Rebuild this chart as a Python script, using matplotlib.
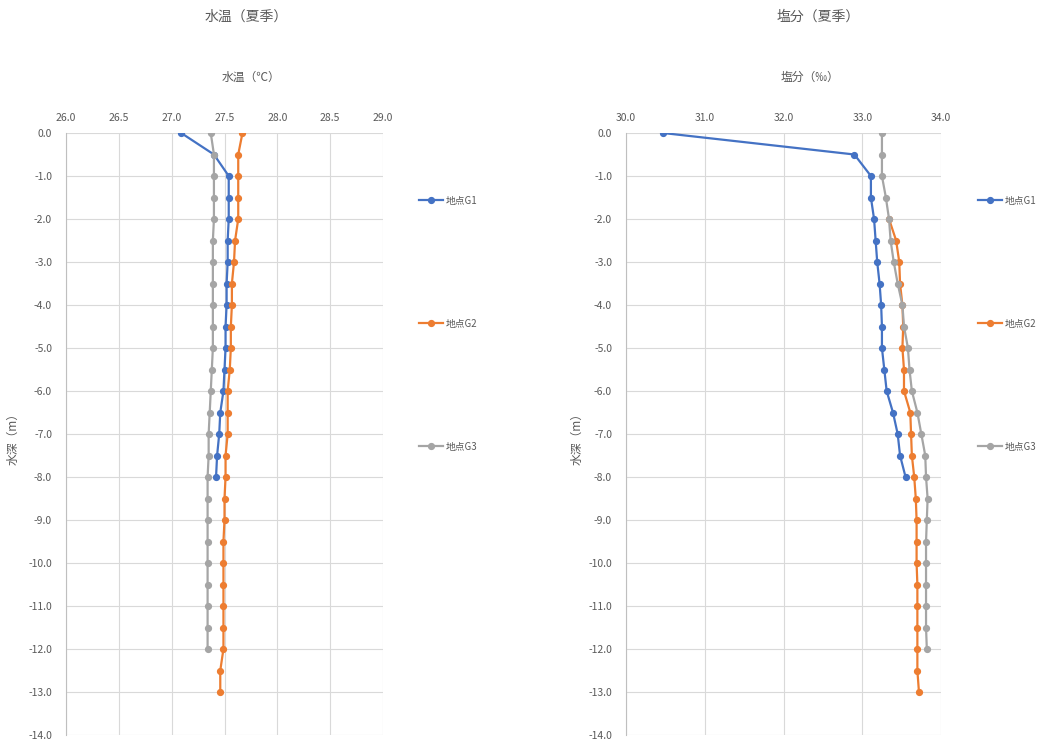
import matplotlib
matplotlib.use("Agg")
import matplotlib.pyplot as plt
from matplotlib.ticker import FormatStrFormatter

plt.rcParams['font.family'] = ['Noto Sans CJK JP', 'DejaVu Sans']

# ---- data ----
labels = ["地点G1", "地点G2", "地点G3"]
colors = ["#4472C4", "#ED7D31", "#A5A5A5"]

depth_to_8 = [0.0, -0.5, -1.0, -1.5, -2.0, -2.5, -3.0, -3.5, -4.0, -4.5,
              -5.0, -5.5, -6.0, -6.5, -7.0, -7.5, -8.0]
depth_to_12 = depth_to_8 + [-8.5, -9.0, -9.5, -10.0, -10.5, -11.0, -11.5, -12.0]
depth_to_13 = depth_to_12 + [-12.5, -13.0]
depth_sal_g2 = [-2.0, -2.5, -3.0, -3.5, -4.0, -4.5, -5.0, -5.5, -6.0, -6.5,
                -7.0, -7.5, -8.0, -8.5, -9.0, -9.5, -10.0, -10.5, -11.0,
                -11.5, -12.0, -12.5, -13.0]

temp_g1 = [27.09, 27.40, 27.54, 27.54, 27.54, 27.53, 27.53, 27.52, 27.52,
           27.51, 27.51, 27.50, 27.49, 27.46, 27.45, 27.43, 27.42]
temp_g2 = [27.67, 27.63, 27.63, 27.63, 27.63, 27.60, 27.59, 27.57, 27.57,
           27.56, 27.56, 27.55, 27.53, 27.53, 27.53, 27.51, 27.51, 27.50,
           27.50, 27.49, 27.49, 27.49, 27.49, 27.49, 27.49, 27.46, 27.46]
temp_g3 = [27.37, 27.40, 27.40, 27.40, 27.40, 27.39, 27.39, 27.39, 27.39,
           27.39, 27.39, 27.38, 27.37, 27.36, 27.35, 27.35, 27.34, 27.34,
           27.34, 27.34, 27.34, 27.34, 27.34, 27.34, 27.34]

sal_g1 = [30.47, 32.90, 33.11, 33.11, 33.15, 33.17, 33.19, 33.22, 33.24,
          33.25, 33.25, 33.28, 33.31, 33.39, 33.45, 33.48, 33.55]
sal_g2 = [33.34, 33.43, 33.47, 33.48, 33.51, 33.52, 33.51, 33.53, 33.53,
          33.61, 33.62, 33.63, 33.66, 33.68, 33.69, 33.69, 33.69, 33.70,
          33.70, 33.70, 33.70, 33.70, 33.72]
sal_g3 = [33.25, 33.25, 33.25, 33.30, 33.34, 33.36, 33.40, 33.45, 33.51,
          33.53, 33.58, 33.60, 33.63, 33.70, 33.75, 33.80, 33.81, 33.83,
          33.82, 33.81, 33.81, 33.81, 33.81, 33.81, 33.82]

temp_ticks = [26.0, 26.5, 27.0, 27.5, 28.0, 28.5, 29.0]
sal_ticks = [30.0, 31.0, 32.0, 33.0, 34.0]
depth_ticks = [0, -1, -2, -3, -4, -5, -6, -7, -8, -9, -10, -11, -12, -13, -14]

TXT = "#595959"
W, H = 1044, 746

fig = plt.figure(figsize=(W / 100, H / 100), dpi=100)


def fx(px):
    return px / W


def fy(py):
    return 1 - py / H


def panel(x0, x1, series, xticks, xlim, title, xtitle, title_x, xtitle_x, ylab_x, leg_x):
    ax = fig.add_axes([fx(x0), fy(735), fx(x1 - x0), fy(133) - fy(735)])
    lines = []
    for (xs, ys), lab, c in zip(series, labels, colors):
        ln, = ax.plot(xs, ys, color=c, lw=1.6, marker="o", ms=4.2, label=lab)
        lines.append(ln)
    ax.set_xlim(*xlim)
    ax.set_ylim(-14, 0)
    ax.set_xticks(xticks)
    ax.set_yticks(depth_ticks)
    ax.xaxis.set_major_formatter(FormatStrFormatter("%.1f"))
    ax.yaxis.set_major_formatter(FormatStrFormatter("%.1f"))
    ax.xaxis.tick_top()
    ax.tick_params(length=0, labelsize=7.5, labelcolor=TXT)
    ax.tick_params(axis="y", pad=10)
    ax.tick_params(axis="x", pad=7)
    ax.grid(True, color="#D9D9D9", lw=0.8)
    for s in ["top", "right", "bottom"]:
        ax.spines[s].set_visible(False)
    ax.spines["left"].set_color("#BFBFBF")
    ax.set_axisbelow(True)

    fig.text(fx(title_x), fy(17), title, ha="center", va="center", fontsize=10, color=TXT)
    fig.text(fx(xtitle_x), fy(77), xtitle, ha="center", va="center", fontsize=8.5, color=TXT)
    fig.text(fx(ylab_x), fy(436), "水深（m）", ha="center", va="center", rotation=90,
             fontsize=8.5, color=TXT)

    fig.legend(handles=lines, loc="upper left",
               bbox_to_anchor=(fx(leg_x), fy(191)), frameon=False,
               fontsize=7, labelspacing=11.62, handlelength=2.5,
               handletextpad=0.3, borderpad=0, labelcolor=TXT)
    return ax


panel(66, 383,
      [(temp_g1, depth_to_8), (temp_g2, depth_to_13), (temp_g3, depth_to_12)],
      temp_ticks, (26, 29), "水温（夏季）", "水温（℃）", 246, 251, 13, 414)

panel(626, 941,
      [(sal_g1, depth_to_8), (sal_g2, depth_sal_g2), (sal_g3, depth_to_12)],
      sal_ticks, (30, 34), "塩分（夏季）", "塩分（‰）", 818, 810, 577, 973)

fig.savefig("out.png", dpi=100, facecolor="white")
